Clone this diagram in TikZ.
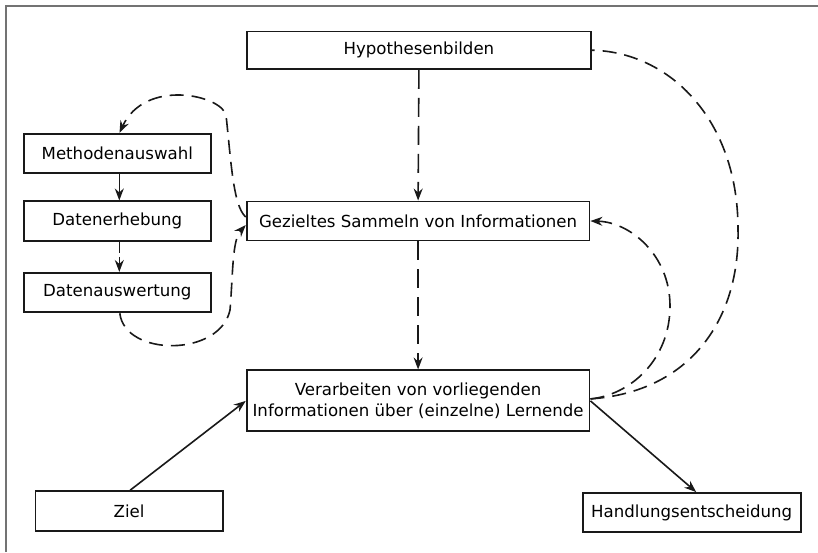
\documentclass[tikz,border=0pt]{standalone}
\usepackage{fontspec}
\setmainfont{DejaVu Sans}
\usetikzlibrary{arrows.meta,calc}
\tikzset{
  box/.style={draw=black!90, line width=1.9pt, rectangle, inner sep=0pt, align=center,
    font=\fontsize{16.6}{21}\selectfont},
  conn/.style={line width=1.6pt, draw=black!90},
  dconn/.style={conn, dash pattern=on 14pt off 8pt},
  vdconn/.style={conn, dash pattern=on 19pt off 9pt},
  tip/.style={-{Stealth[length=12pt,width=9pt,inset=4pt]}}
}
\begin{document}
\begin{tikzpicture}[x=1pt,y=-1pt]
\useasboundingbox (0,0) rectangle (818,552);
\fill[white] (0,0) rectangle (818,552);
\draw[line width=2pt, draw=black!55] (6.3,552) -- (6.3,6.3) -- (818,6.3);

\node[box, minimum width=344pt, minimum height=37.5pt] (hyp) at (418.9,50.2) {Hypothesenbilden};
\node[box, minimum width=187.5pt, minimum height=39.4pt] (meth) at (117.3,153.5) {Methodenauswahl};
\node[box, minimum width=187.5pt, minimum height=39.4pt] (erh) at (117.3,221.1) {Datenerhebung};
\node[box, minimum width=187.5pt, minimum height=39.4pt] (ausw) at (117.3,292.6) {Datenauswertung};
\node[box, minimum width=342.8pt, minimum height=39pt] (gez) at (418.1,221) {Gezieltes Sammeln von Informationen};
\node[box, minimum width=342.8pt, minimum height=61pt] (verarb) at (418.1,400.9) {Verarbeiten von vorliegenden\\Informationen über (einzelne) Lernende};
\node[box, minimum width=187.2pt, minimum height=39.4pt] (ziel) at (129.1,510.9) {Ziel};
\node[box, minimum width=218pt, minimum height=39.4pt] (hand) at (691.7,512.7) {Handlungsentscheidung};

% straight connectors
\draw[vdconn, tip] (hyp.south) -- (gez.north);
\draw[vdconn, tip] (gez.south) -- (verarb.north);
\draw[conn, tip] ($(meth.south)+(2,0)$) -- ($(erh.north)+(2,0)$);
\draw[conn, dash pattern=on 11pt off 4pt, tip] ($(erh.south)+(2,0)$) -- ($(ausw.north)+(2,0)$);
\draw[conn, tip] ($(ziel.north)+(1,0)$) -- (verarb.west);
\draw[conn, tip] (verarb.east) -- ($(hand.north)+(4.5,0)$);

% loop: Gezieltes -> Methodenauswahl
\draw[dconn, tip] ($(gez.west)+(0,-4)$) .. controls (233,206) and (231,160) .. (226,115)
  .. controls (221,95) and (145,78) .. ($(meth.north)+(2.2,0)$);
% loop: Datenauswertung -> Gezieltes
\draw[dconn, tip] ($(ausw.south)+(2.5,0)$) .. controls (125,357) and (220,357) .. (230,310)
  .. controls (233,275) and (232,240) .. ($(gez.west)+(0,4)$);

% Verarbeiten -> Gezieltes
\draw[dconn, tip] ($(verarb.east)+(0,-2)$) .. controls (630,395) and (670,360) .. (670,306)
  .. controls (670,255) and (630,222) .. (gez.east);
% Verarbeiten -- Hypothesenbilden
\draw[dconn] ($(verarb.east)+(0,-2)$) .. controls (690,392) and (740,320) .. (738,229)
  .. controls (738,120) and (670,52) .. (hyp.east);
\end{tikzpicture}
\end{document}
